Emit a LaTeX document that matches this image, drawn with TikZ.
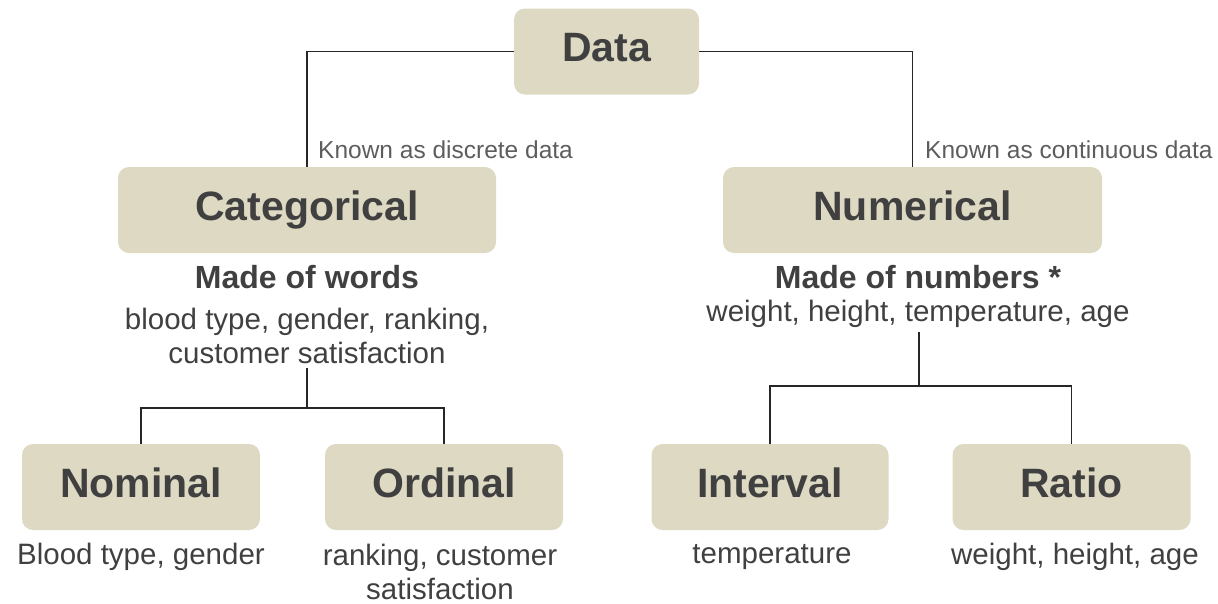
\documentclass[tikz,border=0pt]{standalone}
\usepackage{fontspec}
\setmainfont{Liberation Sans}
\definecolor{boxfill}{HTML}{DDD9C3}
\definecolor{ink}{HTML}{404040}
\definecolor{wirecol}{HTML}{262626}

\begin{document}
\begin{tikzpicture}[x=1pt,y=-1pt,
    kind/.style={fill=boxfill, rounded corners=11pt, text=ink, inner sep=0pt,
      minimum height=86pt, text height=29.5pt, text depth=8.6pt,
      font=\bfseries\fontsize{41}{49}\selectfont},
    head/.style={text=ink, inner sep=0pt, font=\bfseries\fontsize{32}{38}\selectfont},
    note/.style={text=ink, inner sep=0pt, align=center, font=\fontsize{29.5}{34}\selectfont},
    aside/.style={text=ink!85, inner sep=0pt, anchor=west, font=\fontsize{24.5}{29}\selectfont},
    wire/.style={draw=wirecol, line width=1.8pt}]
  \useasboundingbox (0,0) rectangle (1218,603);

  % boxes
  \node[kind, minimum width=185pt] (data) at (606.5,51.5) {Data};
  \node[kind, minimum width=378pt] (cat) at (307,210) {Categorical};
  \node[kind, minimum width=379pt] (num) at (912.5,210) {Numerical};
  \node[kind, minimum width=238pt] (nom) at (141,487) {Nominal};
  \node[kind, minimum width=238pt] (ord) at (444,487) {Ordinal};
  \node[kind, minimum width=237pt] (int) at (770,487) {Interval};
  \node[kind, minimum width=238pt] (rat) at (1071.5,487) {Ratio};

  % texts under the boxes
  \node[aside] (discrete) at (318,150) {Known as discrete data};
  \node[aside] (continuous) at (925,150) {Known as continuous data};
  \node[head] (words) at (307,277) {Made of words};
  \node[note] (catex) at (307,336) {blood type, gender, ranking,\\customer satisfaction};
  \node[head] (numbers) at (918,277) {Made of numbers *};
  \node[note] (numex) at (918,314) {weight, height, temperature, age};
  \node[note] (nomex) at (141,557) {Blood type, gender};
  \node[note] (ordex) at (440,572) {ranking, customer\\satisfaction};
  \node[note] (intex) at (772,557) {temperature};
  \node[note] (ratex) at (1075,557) {weight, height, age};

  \coordinate (catfork) at (307,408);
  \coordinate (numfork) at (919,386);

  \draw[wire] (data.west) -| (cat.north);
  \draw[wire] (data.east) -| (num.north);
  \draw[wire] ([yshift=-4pt]catex.south) -- (catfork);
  \draw[wire] (nom.north) |- (catfork) -| (ord.north);
  \draw[wire] ([yshift=-4pt]numex.south -| numfork) -- (numfork);
  \draw[wire] (int.north) |- (numfork) -| (rat.north);
\end{tikzpicture}
\end{document}
